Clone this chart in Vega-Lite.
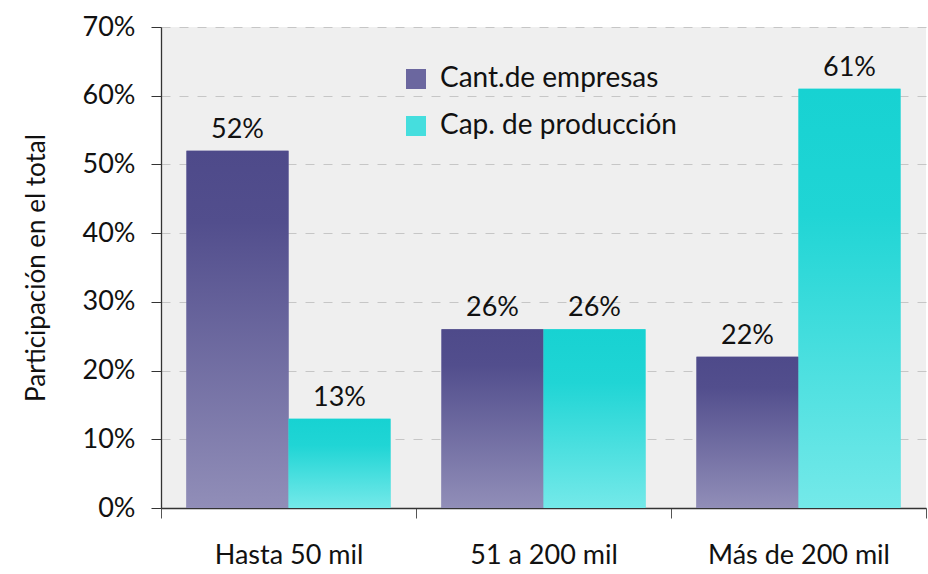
{
  "$schema": "https://vega.github.io/schema/vega-lite/v6.json",
  "autosize": "none",
  "width": 765,
  "height": 481,
  "padding": {"left": 161, "top": 27, "right": 2, "bottom": 66},
  "background": "white",
  "config": {
    "font": "Lato",
    "view": {"fill": "#efefef", "stroke": null}
  },
  "data": {
    "values": [
      {"rango": "Hasta 50 mil", "serie": "Cant.de empresas", "valor": 0.52},
      {"rango": "Hasta 50 mil", "serie": "Cap. de producción", "valor": 0.13},
      {"rango": "51 a 200 mil", "serie": "Cant.de empresas", "valor": 0.26},
      {"rango": "51 a 200 mil", "serie": "Cap. de producción", "valor": 0.26},
      {"rango": "Más de 200 mil", "serie": "Cant.de empresas", "valor": 0.22},
      {"rango": "Más de 200 mil", "serie": "Cap. de producción", "valor": 0.61}
    ]
  },
  "encoding": {
    "x": {
      "field": "rango", "type": "nominal", "sort": null,
      "scale": {"paddingInner": 0, "paddingOuter": 0},
      "axis": {
        "title": null, "labelAngle": 0, "labelFontSize": 27, "labelColor": "#111", "labelLimit": 300,
        "labelPadding": 24, "tickBand": "extent", "tickSize": 10,
        "domainColor": "#333", "tickColor": "#555", "domainWidth": 1.3
      }
    },
    "xOffset": {"field": "serie", "type": "nominal", "sort": null, "scale": {"paddingInner": 0, "paddingOuter": 0.25}},
    "y": {
      "field": "valor", "type": "quantitative",
      "scale": {"domain": [0, 0.7]},
      "axis": {
        "title": "Participación en el total", "titleFontSize": 26, "titleFontWeight": "normal",
        "titleColor": "#111", "titlePadding": 33,
        "format": ".0%", "values": [0, 0.1, 0.2, 0.3, 0.4, 0.5, 0.6, 0.7],
        "labelFontSize": 27, "labelColor": "#111", "labelPadding": 16, "tickSize": 10,
        "domainColor": "#333", "tickColor": "#333", "domainWidth": 1.3,
        "gridColor": "#c6c6c6", "gridDash": [9, 9], "grid": true
      }
    }
  },
  "layer": [
    {
      "mark": {"type": "bar", "strokeWidth": 0},
      "encoding": {
        "fill": {
          "field": "serie", "type": "nominal", "sort": null,
          "scale": {"domain": ["Cant.de empresas", "Cap. de producción"], "range": ["#6b679f", "#45dede"]},
          "legend": {
            "title": null, "orient": "none", "legendX": 241, "legendY": 38,
            "symbolType": "square", "symbolSize": 400, "symbolStrokeWidth": 0,
            "labelFontSize": 28, "labelColor": "#111", "labelOffset": 10, "rowPadding": 19,
            "labelLimit": 400
          }
        }
      }
    },
    {
      "mark": {"type": "bar", "strokeWidth": 0},
      "encoding": {
        "fill": {
          "condition": {
            "test": "datum.serie === 'Cant.de empresas'",
            "value": {"gradient": "linear", "x1": 0, "y1": 0, "x2": 0, "y2": 1,
              "stops": [{"offset": 0, "color": "#4e4a8a"}, {"offset": 0.2, "color": "#524e8d"}, {"offset": 1, "color": "#918eb8"}]}
          },
          "value": {"gradient": "linear", "x1": 0, "y1": 0, "x2": 0, "y2": 1,
            "stops": [{"offset": 0, "color": "#17d2d2"}, {"offset": 0.3, "color": "#20d5d5"}, {"offset": 1, "color": "#74e9e9"}]}
        }
      }
    },
    {
      "mark": {"type": "text", "baseline": "alphabetic", "dy": -13, "fontSize": 27, "color": "#111"},
      "encoding": {
        "text": {"field": "valor", "type": "quantitative", "format": ".0%"}
      }
    }
  ]
}
